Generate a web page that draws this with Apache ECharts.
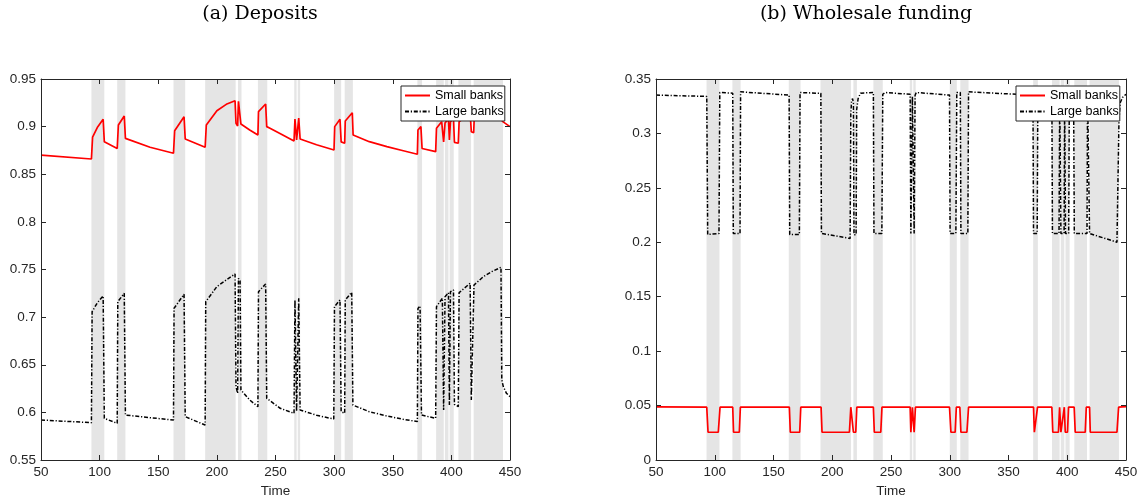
<!DOCTYPE html>
<html>
<head>
<meta charset="utf-8">
<title>Deposits and wholesale funding</title>
<script src="https://cdn.jsdelivr.net/npm/echarts@6.0.0/dist/echarts.min.js"></script>
<style>
  html, body { margin: 0; padding: 0; background: #fff; }
  #chart { width: 1145px; height: 503px; }
</style>
</head>
<body>
<div id="chart"></div>
<script>
// shaded periods (start / end time)
var shadeStart = [93, 115, 163, 190, 218, 235, 266, 269, 300, 309, 371, 387, 394.5, 398.5, 406, 419];
var shadeEnd   = [104, 122, 173, 216, 221, 243, 268, 271, 306, 316, 375, 393.5, 397.5, 402, 416.8, 444];

// (a) Deposits - small banks
var smallDepT = [50,93,94,98,103,104,115,116,121,122,143,163,164,172,173,190,191,200,208,215.5,216.3,217.7,218.4,219.8,220.5,228,235,235.5,241.6,242.5,245.3,255,265.8,266.6,268,269.8,271,285,299.9,300.5,305,306,309,309.5,315.5,316.2,330,345,359,371,371.5,374,375,386.6,387.3,391.7,393.4,394.6,397.5,398.3,399.2,401.8,402.6,405.9,406.6,416,417,419,419.6,430,442.5,443.5,450];
var smallDepV = [0.870,0.866,0.889,0.899,0.9077,0.884,0.877,0.9017,0.9112,0.8877,0.8783,0.872,0.8957,0.9104,0.887,0.8783,0.9017,0.9167,0.9234,0.9272,0.9035,0.9007,0.9266,0.925,0.9027,0.8965,0.8912,0.9157,0.9238,0.90,0.8983,0.892,0.8849,0.908,0.886,0.909,0.887,0.881,0.8755,0.90,0.9077,0.884,0.8825,0.9059,0.9146,0.8912,0.8842,0.879,0.8747,0.871,0.8965,0.90,0.877,0.8737,0.8983,0.9052,0.884,0.904,0.908,0.886,0.905,0.909,0.8835,0.8825,0.905,0.915,0.8947,0.8935,0.912,0.922,0.93,0.9055,0.90];

// (a) Deposits - large banks
var largeDepT = [50,93,93.6,98,103,104,115,115.5,121,122,143,163,163.5,172,173,190,190.5,200,208,215.5,216.3,217.7,218.4,219.8,220.5,228,235,235.5,241.6,242.5,254,265.8,266.6,268,269.8,271,285,299.7,300.3,305,306,309,309.5,315,316,330,345,359,371,371.5,373.3,374.5,386.6,387.3,392.3,393.4,394.6,397.5,398.3,399.2,401.8,402.6,405.9,406.6,416,417,418.6,419.3,427.2,434.4,442.3,443,444.3,447,450];
var largeDepV = [0.592,0.5892,0.7057,0.715,0.7222,0.5937,0.5885,0.7162,0.725,0.5972,0.5944,0.592,0.7093,0.724,0.5955,0.5867,0.7162,0.732,0.739,0.7453,0.627,0.62,0.7407,0.738,0.6235,0.613,0.606,0.7267,0.7348,0.6148,0.6043,0.599,0.718,0.601,0.7198,0.6025,0.597,0.593,0.711,0.718,0.6007,0.599,0.718,0.726,0.6077,0.6007,0.5962,0.5927,0.5903,0.709,0.7117,0.5972,0.5938,0.711,0.7198,0.6025,0.7214,0.7257,0.6077,0.7267,0.7285,0.6085,0.606,0.7257,0.7355,0.613,0.612,0.7337,0.7424,0.7477,0.7523,0.634,0.627,0.62,0.6165];

// (b) Wholesale funding - small banks
var smallWhT = [50,93.2,94.3,103,104.5,115.3,116,120.9,121.8,163.5,164.3,172.3,173.2,190.5,191.3,214.6,215.8,216.8,218,220,220.9,235,235.8,241.3,242.3,266.3,266.9,268.2,269.7,270.8,299.8,301,304.6,305.6,308.6,309.5,314.6,316,371.3,372,373.7,374.7,386.9,387.7,392.5,393.5,394.6,396.3,397.5,398.3,400.2,401.1,405.9,406.8,415.3,416.2,419,419.6,442.3,443.7,450];
var smallWhV = [0.0488,0.0485,0.0255,0.0255,0.0485,0.0485,0.0255,0.0255,0.0485,0.0485,0.0255,0.0255,0.0485,0.0485,0.0255,0.0255,0.0485,0.0485,0.0255,0.0255,0.0485,0.0485,0.0255,0.0255,0.0485,0.0485,0.0255,0.0485,0.0255,0.0485,0.0485,0.0255,0.0255,0.0485,0.0485,0.0255,0.0255,0.0485,0.0485,0.0255,0.0255,0.0485,0.0485,0.0255,0.0255,0.0485,0.0255,0.0255,0.0485,0.0255,0.0255,0.0485,0.0485,0.0255,0.0255,0.0485,0.0485,0.0255,0.0255,0.0485,0.049];

// (b) Wholesale funding - large banks
var largeWhT = [50,93.2,94,103.6,104.3,115.3,115.8,121.5,122,163.3,163.8,172,172.6,190.3,190.8,215.2,215.8,216.5,217.3,218,218.5,220.3,220.8,222,224,235,235.5,242.2,243,245,266.3,266.9,268.2,269.7,270.5,271.5,299.8,300.3,305.2,306,309,309.5,315.4,316,370.8,371.3,374.4,375,386.9,387.4,393,393.6,394.6,397.3,397.8,398.5,401.2,401.8,405.4,406,416.8,417.3,418.5,419,442.3,443.5,444,445,447,450];
var largeWhV = [0.3352,0.334,0.2072,0.2081,0.3376,0.337,0.208,0.208,0.3382,0.3352,0.2072,0.2072,0.3376,0.3368,0.2081,0.2035,0.318,0.330,0.332,0.328,0.207,0.207,0.322,0.332,0.337,0.3376,0.2081,0.2081,0.336,0.3376,0.336,0.208,0.334,0.208,0.335,0.3376,0.3352,0.2081,0.2081,0.3376,0.3376,0.208,0.208,0.3382,0.3352,0.208,0.208,0.337,0.336,0.208,0.208,0.336,0.208,0.208,0.336,0.208,0.208,0.336,0.336,0.208,0.208,0.336,0.336,0.208,0.2001,0.2,0.31,0.328,0.333,0.336];

var xTicks = { min: 50, max: 450, interval: 50 };
var depTicks = { min: 0.55, max: 0.95, interval: 0.05 };
var whTicks = { min: 0, max: 0.35, interval: 0.05 };

function pairs(t, v) {
  return t.map(function (x, i) { return [x, v[i]]; });
}

var axisColor = '#262626';
var labelFont = { color: axisColor, fontSize: 13.5, fontFamily: 'Liberation Sans, Arial, sans-serif' };
var titleFont = { fontFamily: 'DejaVu Serif, serif', fontWeight: 'normal', fontSize: 19, color: '#000' };

function xAxisFor(grid, top) {
  return {
    type: 'value', gridIndex: grid, position: top ? 'top' : 'bottom',
    min: xTicks.min, max: xTicks.max, interval: xTicks.interval, z: 10,
    name: top ? '' : 'Time', nameLocation: 'middle', nameGap: 23,
    nameTextStyle: labelFont,
    axisLine: { show: true, onZero: false, lineStyle: { color: axisColor, width: 1 } },
    axisTick: { show: true, inside: true, length: 5, lineStyle: { color: axisColor } },
    axisLabel: Object.assign({ show: !top, margin: 5 }, labelFont),
    splitLine: { show: false }
  };
}

function yAxisFor(grid, ticks, right) {
  return {
    type: 'value', gridIndex: grid, position: right ? 'right' : 'left',
    min: ticks.min, max: ticks.max, interval: ticks.interval, z: 10,
    axisLine: { show: true, onZero: false, lineStyle: { color: axisColor, width: 1 } },
    axisTick: { show: true, inside: true, length: 5, lineStyle: { color: axisColor } },
    axisLabel: Object.assign({ show: !right, margin: 5 }, labelFont),
    splitLine: { show: false }
  };
}

var shadeAreas = shadeStart.map(function (s, i) {
  return [{ xAxis: s }, { xAxis: shadeEnd[i] }];
});

function shadeSeries(axisIdx) {
  return {
    type: 'line', xAxisIndex: axisIdx, yAxisIndex: axisIdx, data: [], z: 1, silent: true,
    markArea: { silent: true, itemStyle: { color: '#e5e5e5' }, data: shadeAreas }
  };
}

var redLine = { color: '#ff0000', width: 1.7 };
var blackLine = { color: '#000000', width: 1.5, type: [4, 1.8, 1.2, 1.8] };

function lineSeries(name, axisIdx, data, style) {
  return {
    name: name, type: 'line', xAxisIndex: axisIdx, yAxisIndex: axisIdx,
    data: data, showSymbol: false, symbol: 'none', z: 3,
    lineStyle: style, itemStyle: { color: style.color }
  };
}

function legendFor(left) {
  return {
    left: left, top: 86, orient: 'vertical',
    data: ['Small banks', 'Large banks'],
    itemWidth: 25, itemHeight: 14, itemGap: 3,
    padding: [3, 1, 3, 3],
    itemStyle: { opacity: 0 },
    backgroundColor: '#ffffff', borderColor: axisColor, borderWidth: 1,
    textStyle: { color: '#000', fontSize: 12.5, fontFamily: 'Liberation Sans, Arial, sans-serif' }
  };
}

var chart = echarts.init(document.getElementById('chart'));
chart.setOption({
  animation: false,
  backgroundColor: '#ffffff',
  title: [
    { text: '(a) Deposits', left: 260, top: 5, textAlign: 'center', padding: 0, textStyle: titleFont },
    { text: '(b) Wholesale funding', left: 866, top: 5, textAlign: 'center', padding: 0, textStyle: titleFont }
  ],
  legend: [legendFor(401), legendFor(1016)],
  grid: [
    { left: 41, top: 79, width: 469, height: 381 },
    { left: 656, top: 79, width: 470, height: 381 }
  ],
  xAxis: [xAxisFor(0, false), xAxisFor(1, false), xAxisFor(0, true), xAxisFor(1, true)],
  yAxis: [yAxisFor(0, depTicks, false), yAxisFor(1, whTicks, false), yAxisFor(0, depTicks, true), yAxisFor(1, whTicks, true)],
  series: [
    shadeSeries(0),
    shadeSeries(1),
    lineSeries('Small banks', 0, pairs(smallDepT, smallDepV), redLine),
    lineSeries('Large banks', 0, pairs(largeDepT, largeDepV), blackLine),
    lineSeries('Small banks', 1, pairs(smallWhT, smallWhV), redLine),
    lineSeries('Large banks', 1, pairs(largeWhT, largeWhV), blackLine)
  ]
});
</script>
</body>
</html>
